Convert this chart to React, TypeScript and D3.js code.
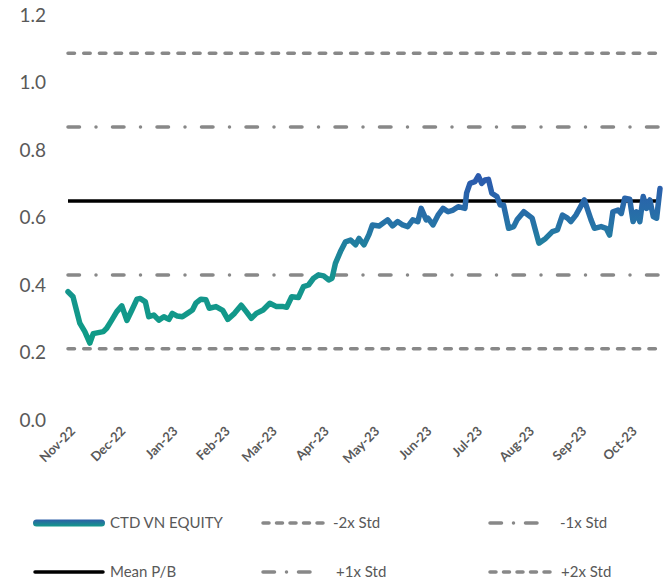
import React from "react";
import * as d3 from "d3";

const dates = [
  "2022-11-01","2022-11-04","2022-11-06","2022-11-08","2022-11-11","2022-11-14","2022-11-16","2022-11-19","2022-11-22","2022-11-24","2022-11-27","2022-11-30",
  "2022-12-03","2022-12-06","2022-12-09","2022-12-12","2022-12-14","2022-12-17","2022-12-19","2022-12-22","2022-12-25","2022-12-28","2022-12-31",
  "2023-01-02","2023-01-05","2023-01-08","2023-01-11","2023-01-14","2023-01-16","2023-01-19","2023-01-22","2023-01-24","2023-01-28",
  "2023-02-01","2023-02-04","2023-02-08","2023-02-12","2023-02-15","2023-02-18","2023-02-21","2023-02-25",
  "2023-03-01","2023-03-05","2023-03-09","2023-03-11","2023-03-14","2023-03-18","2023-03-21","2023-03-24","2023-03-27","2023-03-30",
  "2023-04-02","2023-04-05","2023-04-07","2023-04-09","2023-04-12","2023-04-15","2023-04-18","2023-04-21","2023-04-23","2023-04-26","2023-04-29",
  "2023-05-01","2023-05-05","2023-05-10","2023-05-13","2023-05-16","2023-05-19","2023-05-22","2023-05-25","2023-05-28","2023-05-30",
  "2023-06-02","2023-06-03","2023-06-06","2023-06-09","2023-06-12","2023-06-15","2023-06-18","2023-06-21","2023-06-25","2023-06-26","2023-06-28",
  "2023-07-01","2023-07-03","2023-07-05","2023-07-07","2023-07-09","2023-07-11","2023-07-14","2023-07-16","2023-07-18","2023-07-21","2023-07-24","2023-07-26","2023-07-30",
  "2023-08-04","2023-08-08","2023-08-12","2023-08-16","2023-08-19","2023-08-22","2023-08-25","2023-08-27","2023-08-30",
  "2023-09-04","2023-09-08","2023-09-10","2023-09-14","2023-09-17","2023-09-19","2023-09-21","2023-09-24","2023-09-26","2023-09-28",
  "2023-10-01","2023-10-03","2023-10-05","2023-10-07","2023-10-09","2023-10-11","2023-10-13","2023-10-15","2023-10-17","2023-10-19",
];

const pbValues = [
  0.38,0.365,0.326,0.287,0.262,0.228,0.256,0.259,0.262,0.272,0.296,0.321,
  0.338,0.295,0.326,0.358,0.36,0.35,0.306,0.311,0.296,0.306,0.298,
  0.316,0.308,0.306,0.316,0.326,0.346,0.358,0.356,0.331,0.336,
  0.325,0.298,0.316,0.34,0.321,0.301,0.316,0.326,
  0.346,0.336,0.336,0.334,0.365,0.363,0.395,0.40,0.42,0.43,
  0.427,0.415,0.42,0.464,0.499,0.528,0.533,0.519,0.538,0.519,0.55,
  0.578,0.575,0.593,0.575,0.588,0.578,0.573,0.593,0.588,0.627,
  0.593,0.598,0.578,0.607,0.627,0.617,0.622,0.632,0.627,0.672,0.701,
  0.706,0.723,0.701,0.711,0.713,0.672,0.662,0.637,0.637,0.568,0.573,0.593,0.617,
  0.598,0.524,0.538,0.558,0.563,0.607,0.598,0.588,0.607,
  0.652,0.593,0.568,0.573,0.568,0.548,0.617,0.622,0.612,0.657,
  0.654,0.588,0.617,0.588,0.662,0.627,0.652,0.603,0.598,0.686,
];

const meanPB = 0.649;
const stdPB = 0.219;

const yTicks = [0, 0.2, 0.4, 0.6, 0.8, 1.0, 1.2];
const monthTicks = [
  "2022-11-01","2022-12-01","2023-01-01","2023-02-01","2023-03-01","2023-04-01",
  "2023-05-01","2023-06-01","2023-07-01","2023-08-01","2023-09-01","2023-10-01",
];

const seriesName = "CTD VN EQUITY";
const bandNames = ["-2x Std", "-1x Std", "Mean P/B", "+1x Std", "+2x Std"];
const bandMultipliers = [-2, -1, 0, 1, 2];

const W = 667;
const H = 584;
const FONT = "Lato, 'Open Sans', sans-serif";
const GREY = "#595959";
const LINE_GREY = "#888888";
const DASH = "6.5 9.2";
const DASHDOT = "11.5 16.5 0 16.5";

export default function App() {
  const parse = d3.timeParse("%Y-%m-%d");
  const data = dates.map((d, i) => ({ date: parse(d) as Date, v: pbValues[i] }));

  const x = d3
    .scaleTime()
    .domain([parse(dates[0]) as Date, parse(dates[dates.length - 1]) as Date])
    .range([68, 660]);
  const y = d3.scaleLinear().domain([0, 1.2]).range([420, 15]);

  const line = d3
    .line<{ date: Date; v: number }>()
    .x((d) => x(d.date))
    .y((d) => y(d.v))
    .curve(d3.curveLinear);

  const fmt = d3.timeFormat("%b-%y");

  const bandStyle = (m: number) => {
    if (m === 0) return { stroke: "#000", dash: undefined as string | undefined, cap: "butt" as const };
    if (Math.abs(m) === 2) return { stroke: LINE_GREY, dash: DASH, cap: "round" as const };
    return { stroke: LINE_GREY, dash: DASHDOT, cap: "round" as const };
  };

  const x0 = x.range()[0];
  const x1 = x.range()[1];

  const legendItems = [
    { kind: "series", label: seriesName, lx: 33, ly: 523, m: 9 },
    { kind: "band", label: bandNames[0], lx: 261, ly: 523, m: -2 },
    { kind: "band", label: bandNames[1], lx: 488, ly: 523, m: -1 },
    { kind: "band", label: bandNames[2], lx: 33, ly: 572, m: 0 },
    { kind: "band", label: bandNames[3], lx: 261, ly: 572, m: 1 },
    { kind: "band", label: bandNames[4], lx: 488, ly: 572, m: 2 },
  ];
  const swatchLen: Record<string, number> = { "-2": 68, "-1": 58, "0": 70, "1": 60, "2": 68 };
  const textX: Record<string, number> = { "-2": 333, "-1": 560, "0": 110, "1": 336, "2": 561 };

  return (
    <svg
      width={W}
      height={H}
      style={{ position: "absolute", left: 0, top: 0, background: "#fff" }}
      fontFamily={FONT}
    >
      <defs>
        <linearGradient id="pbGrad" gradientUnits="userSpaceOnUse" x1={0} x2={0} y1={y(0.22)} y2={y(0.72)}>
          <stop offset="0" stopColor="#0e9c85" />
          <stop offset="0.4" stopColor="#16948f" />
          <stop offset="0.7" stopColor="#2675a6" />
          <stop offset="1" stopColor="#2b5aad" />
        </linearGradient>
        <linearGradient id="legGrad" x1="0" x2="0" y1="0" y2="1">
          <stop offset="0" stopColor="#2d5fa8" />
          <stop offset="1" stopColor="#13998a" />
        </linearGradient>
      </defs>

      {/* y tick labels */}
      {yTicks.map((t) => (
        <text key={t} x={46} y={y(t)} dy="0.35em" textAnchor="end" fontSize={19} fill={GREY}>
          {t.toFixed(1)}
        </text>
      ))}

      {/* x tick labels */}
      {monthTicks.map((m) => {
        const d = parse(m) as Date;
        const tx = x(d) + 8;
        const ty = 432;
        return (
          <text
            key={m}
            transform={`translate(${tx},${ty}) rotate(-45)`}
            textAnchor="end"
            fontSize={13}
            fontWeight="bold"
            fill={GREY}
          >
            {fmt(d)}
          </text>
        );
      })}

      {/* band lines */}
      {bandMultipliers.map((m) => {
        const s = bandStyle(m);
        const yy = y(meanPB + m * stdPB);
        return (
          <line
            key={m}
            x1={x0}
            x2={x1}
            y1={yy}
            y2={yy}
            stroke={s.stroke}
            strokeWidth={3.5}
            strokeDasharray={s.dash}
            strokeLinecap={s.cap}
          />
        );
      })}

      {/* series */}
      <path
        d={line(data) || ""}
        fill="none"
        stroke="url(#pbGrad)"
        strokeWidth={5.5}
        strokeLinejoin="round"
        strokeLinecap="round"
      />

      {/* legend */}
      {legendItems.map((it, i) => {
        if (it.kind === "series") {
          return (
            <g key={i}>
              <rect x={it.lx} y={it.ly - 3.5} width={72} height={7} rx={3.5} fill="url(#legGrad)" />
              <text x={110} y={it.ly} dy="0.35em" fontSize={15} fill={GREY}>
                {it.label}
              </text>
            </g>
          );
        }
        const m = it.m;
        const s = bandStyle(m);
        const len = swatchLen[String(m)];
        return (
          <g key={i}>
            <line
              x1={it.lx + 2}
              x2={it.lx + len}
              y1={it.ly}
              y2={it.ly}
              stroke={s.stroke}
              strokeWidth={m === 0 ? 3.5 : 3.5}
              strokeDasharray={m === 0 ? undefined : Math.abs(m) === 2 ? "6 7.5" : "11.5 12 0 12"}
              strokeLinecap="round"
            />
            <text x={textX[String(m)]} y={it.ly} dy="0.35em" fontSize={15} fill={GREY}>
              {it.label}
            </text>
          </g>
        );
      })}
    </svg>
  );
}
